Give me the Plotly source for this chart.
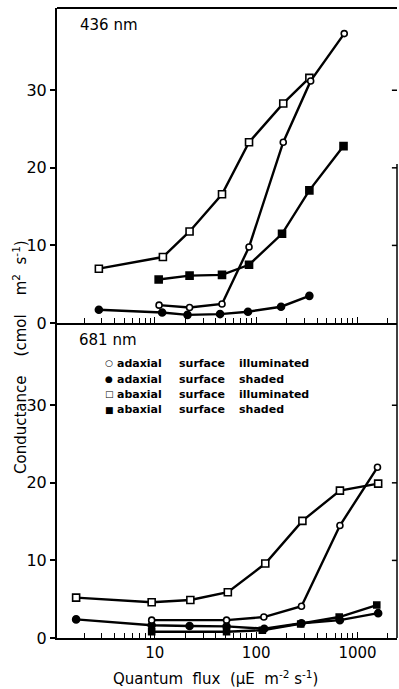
import plotly.graph_objects as go
from plotly.subplots import make_subplots

# ---------------- data ----------------
# 436 nm panel
top_ad_ill_x = [11, 22, 46, 85, 185, 345, 740]
top_ad_ill_y = [2.3, 2.0, 2.45, 9.8, 23.3, 31.2, 37.3]
top_ad_sh_x = [2.8, 11.8, 21, 44, 83, 176, 335]
top_ad_sh_y = [1.7, 1.35, 1.05, 1.15, 1.45, 2.1, 3.5]
top_ab_ill_x = [2.8, 12, 22, 46, 85, 185, 335]
top_ab_ill_y = [7.0, 8.5, 11.8, 16.6, 23.3, 28.3, 31.6]
top_ab_sh_x = [10.9, 22, 46, 85, 180, 335, 728]
top_ab_sh_y = [5.6, 6.1, 6.2, 7.5, 11.5, 17.1, 22.8]

# 681 nm panel
bot_ad_ill_x = [9.3, 51, 119, 280, 671, 1575]
bot_ad_ill_y = [2.3, 2.3, 2.7, 4.1, 14.5, 22.0]
bot_ad_sh_x = [1.67, 9.3, 22, 51, 120, 280, 670, 1600]
bot_ad_sh_y = [2.4, 1.65, 1.55, 1.5, 1.2, 1.9, 2.3, 3.2]
bot_ab_ill_x = [1.67, 9.3, 22.4, 52.5, 123, 286, 671, 1600]
bot_ab_ill_y = [5.2, 4.6, 4.9, 5.9, 9.6, 15.1, 19.0, 19.9]
bot_ab_sh_x = [9.3, 51, 115, 275, 660, 1550]
bot_ab_sh_y = [0.8, 0.8, 1.0, 1.8, 2.7, 4.25]

y_ticks = [0, 10, 20, 30]
x_major = [10, 100, 1000]
x_minor = [2, 3, 4, 5, 6, 7, 8, 9,
           20, 30, 40, 50, 60, 70, 80, 90,
           200, 300, 400, 500, 600, 700, 800, 900, 2000]

panel_labels = ["436 nm", "681 nm"]
legend_rows = [
    ("\u25cb", "adaxial", "surface", "illuminated"),
    ("\u25cf", "adaxial", "surface", "shaded"),
    ("\u25a1", "abaxial", "surface", "illuminated"),
    ("\u25a0", "abaxial", "surface", "shaded"),
]

# ---------------- figure ----------------
W, H = 399, 689
L, R, T, B = 57, 2, 8, 51
PW, PH = W - L - R, H - T - B

def px_x(p):
    return (p - L) / PW

def px_y(p):
    return (H - B - p) / PH

fig = make_subplots(rows=2, cols=1, shared_xaxes=True, vertical_spacing=0)

FONT = "DejaVu Sans"


def add_series(x, y, row, symbol, filled, size):
    fig.add_trace(
        go.Scatter(
            x=x, y=y, mode="lines+markers",
            line=dict(color="black", width=2.4),
            marker=dict(symbol=symbol, size=size,
                        color="black" if filled else "white",
                        line=dict(color="black", width=1.6)),
            showlegend=False, cliponaxis=False,
        ),
        row=row, col=1,
    )

add_series(top_ad_sh_x, top_ad_sh_y, 1, "circle", True, 7)
add_series(top_ab_sh_x, top_ab_sh_y, 1, "square", True, 7)
add_series(top_ab_ill_x, top_ab_ill_y, 1, "square", False, 7)
add_series(top_ad_ill_x, top_ad_ill_y, 1, "circle", False, 6)

add_series(bot_ad_sh_x, bot_ad_sh_y, 2, "circle", True, 7)
add_series(bot_ab_sh_x, bot_ab_sh_y, 2, "square", True, 6)
add_series(bot_ab_ill_x, bot_ab_ill_y, 2, "square", False, 7)
add_series(bot_ad_ill_x, bot_ad_ill_y, 2, "circle", False, 6)

xr = [0.034, 3.39]
yr = [0, 40.6]

for row in (1, 2):
    fig.update_xaxes(
        type="log", range=xr, row=row, col=1,
        tickmode="array", tickvals=x_major, ticktext=[str(v) for v in x_major],
        ticks="inside", ticklen=6, tickwidth=1.3, tickcolor="black",
        minor=dict(tickmode="array", tickvals=x_minor, ticks="inside", ticklen=5,
                   tickwidth=1.3, tickcolor="black", showgrid=False),
        showline=True, linecolor="black", linewidth=2,
        showgrid=False, zeroline=False,
        tickfont=dict(family=FONT, size=15, color="black"),
        showticklabels=(row == 2),
    )
    fig.update_yaxes(
        range=yr, row=row, col=1,
        tickvals=y_ticks, ticktext=[str(v) for v in y_ticks],
        ticks="outside", ticklen=5, tickwidth=1.5, tickcolor="black",
        showline=True, linecolor="black", linewidth=2,
        showgrid=False, zeroline=False,
        tickfont=dict(family=FONT, size=16, color="black"),
    )

shapes = []
# top frame line
shapes.append(dict(type="line", xref="paper", yref="paper", x0=0, x1=1, y0=1, y1=1,
                   line=dict(color="black", width=2)))
# right frame: bottom panel full, top panel partial
shapes.append(dict(type="line", xref="paper", yref="y2", x0=1, x1=1, y0=0, y1=yr[1],
                   line=dict(color="black", width=1.5)))
shapes.append(dict(type="line", xref="paper", yref="y", x0=1, x1=1, y0=0, y1=20.5,
                   line=dict(color="black", width=1.5)))
# right inward ticks
for yref in ("y", "y2"):
    for v in y_ticks[1:]:
        shapes.append(dict(type="line", xref="paper", yref=yref, x0=0.985, x1=1, y0=v, y1=v,
                           line=dict(color="black", width=1.5)))
fig.update_layout(shapes=shapes)

ann = []
ann.append(dict(text=panel_labels[0], x=px_x(78), y=px_y(25), xref="paper", yref="paper",
                xanchor="left", yanchor="middle", showarrow=False,
                font=dict(family=FONT, size=15, color="black")))
ann.append(dict(text=panel_labels[1], x=px_x(77), y=px_y(340), xref="paper", yref="paper",
                xanchor="left", yanchor="middle", showarrow=False,
                font=dict(family=FONT, size=15, color="black")))
ann.append(dict(text="Conductance    (cmol    m<sup>2</sup>  s<sup>-1</sup>)",
                x=px_x(20), y=px_y(357), xref="paper", yref="paper",
                xanchor="center", yanchor="middle", textangle=-90, showarrow=False,
                font=dict(family=FONT, size=15, color="black")))
ann.append(dict(text="Quantum  flux  (\u03bcE  m<sup>-2</sup> s<sup>-1</sup>)",
                x=px_x(215), y=px_y(678), xref="paper", yref="paper",
                xanchor="center", yanchor="middle", showarrow=False,
                font=dict(family=FONT, size=15, color="black")))

row_y = [363, 379, 394, 410]
col_x = [115, 177, 237]
for (sym, w1, w2, w3), py in zip(legend_rows, row_y):
    ann.append(dict(text=sym, x=px_x(109), y=px_y(py), xref="paper", yref="paper",
                    xanchor="center", yanchor="middle", showarrow=False,
                    font=dict(family=FONT, size=9, color="black")))
    for w, px in zip((w1, w2, w3), col_x):
        ann.append(dict(text="<b>" + w + "</b>", x=px_x(px), y=px_y(py), xref="paper", yref="paper",
                        xanchor="left", yanchor="middle", showarrow=False,
                        font=dict(family=FONT, size=11, color="black")))
fig.update_layout(annotations=ann)

fig.update_layout(
    width=W, height=H,
    margin=dict(l=L, r=R, t=T, b=B),
    paper_bgcolor="white", plot_bgcolor="white",
    showlegend=False,
)

fig.write_html("out.html")
